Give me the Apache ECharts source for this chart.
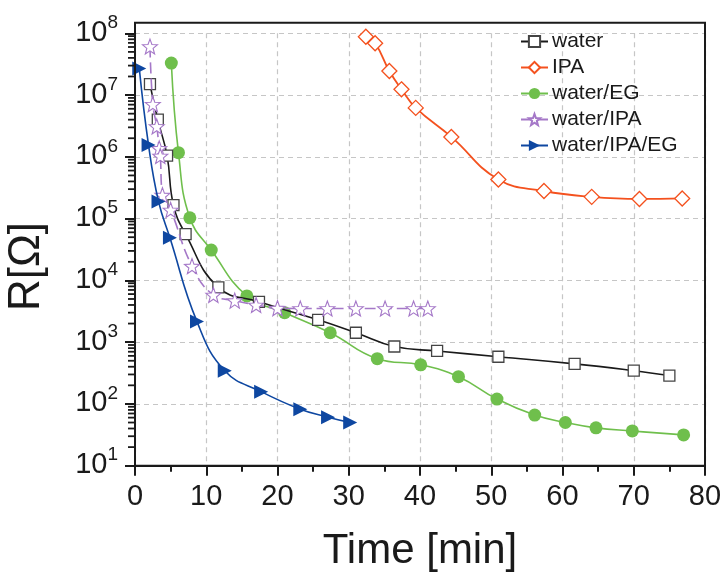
<!DOCTYPE html>
<html>
<head>
<meta charset="utf-8">
<script src="https://cdn.jsdelivr.net/npm/echarts@6/dist/echarts.min.js"></script>
<style>
  html, body { margin: 0; padding: 0; background: #fff; }
  #chart { width: 726px; height: 572px; }
</style>
</head>
<body>
<div id="chart"></div>
<script>
// Resistance R [Ω] versus drying time [min] for five solvents
const seriesNames = ['water', 'IPA', 'water/EG', 'water/IPA', 'water/IPA/EG'];

const waterTime = [2.1, 3.2, 4.5, 5.4, 7.1, 11.7, 17.4, 25.7, 31.0, 36.4, 42.4, 51.0, 61.7, 70.0, 75.0];
const waterR    = [1.5e7, 4.0e6, 1.05e6, 1.65e5, 5.6e4, 7.7e3, 4.5e3, 2.3e3, 1.42e3, 850, 720, 580, 445, 345, 288];

const ipaTime = [32.4, 33.7, 35.7, 37.4, 39.4, 44.4, 51.0, 57.4, 64.1, 70.8, 76.8];
const ipaR    = [8.8e7, 6.9e7, 2.45e7, 1.24e7, 6.2e6, 2.1e6, 4.3e5, 2.8e5, 2.25e5, 2.08e5, 2.12e5];

const waterEgTime = [5.1, 6.1, 7.7, 10.7, 15.7, 21.0, 27.4, 34.0, 40.1, 45.4, 50.8, 56.1, 60.4, 64.7, 69.8, 77.0];
const waterEgR    = [3.3e7, 1.17e6, 1.03e5, 3.1e4, 5.6e3, 3.0e3, 1.42e3, 540, 430, 276, 120, 66, 50, 41, 36.5, 31.5];

const waterIpaTime = [2.1, 2.5, 3.05, 3.4, 3.55, 3.85, 5.0, 8.0, 11.0, 14.0, 17.0, 20.0, 23.2, 27.0, 31.0, 35.1, 39.1, 41.1];
const waterIpaR    = [6.1e7, 7.1e6, 3.1e6, 1.37e6, 1.03e6, 2.4e5, 1.38e5, 1.7e4, 5.8e3, 4.7e3, 4.0e3, 3.55e3, 3.5e3, 3.5e3, 3.5e3, 3.5e3, 3.5e3, 3.5e3];

const waterIpaEgTime = [0.6, 1.9, 3.3, 4.9, 8.7, 12.6, 17.7, 23.2, 27.1, 30.2];
const waterIpaEgR    = [2.7e7, 1.55e6, 1.9e5, 4.9e4, 2.15e3, 345, 158, 82, 61, 50];

const xTicks = [0, 10, 20, 30, 40, 50, 60, 70, 80];
const yDecades = [1e1, 1e2, 1e3, 1e4, 1e5, 1e6, 1e7, 1e8];

// minor log ticks 2..9 inside every decade
const yMinorTicks = [];
for (let d = 0; d < yDecades.length - 1; d++) {
  for (let m = 2; m <= 9; m++) yMinorTicks.push(m * yDecades[d]);
}

function pairs(xs, ys) { return xs.map((x, i) => [x, ys[i]]); }

// five-pointed outline star marker
function starPath() {
  const pts = [];
  for (let i = 0; i < 10; i++) {
    const r = i % 2 ? 0.42 : 1;
    const a = Math.PI / 2 + i * Math.PI / 5;
    pts.push((r * Math.cos(a)).toFixed(4) + ' ' + (-r * Math.sin(a)).toFixed(4));
  }
  return 'path://M' + pts.join(' L') + ' Z';
}

const FONT = '"Liberation Sans", Arial, Helvetica, sans-serif';
const INK = '#1a1a1a';

const colors = {
  water: '#1a1a1a',
  ipa: '#F4511E',
  eg: '#6FBF4C',
  waterIpa: '#A578C8',
  triple: '#0E47A1'
};

const commonLine = {
  type: 'line',
  smooth: 0.45,
  clip: false,
  xAxisIndex: 0,
  yAxisIndex: 0
};

const chart = echarts.init(document.getElementById('chart'), null, { renderer: 'canvas' });

chart.setOption({
  animation: false,
  backgroundColor: '#ffffff',
  textStyle: { fontFamily: FONT, color: INK },
  grid: { left: 135, right: 21, top: 33.3, bottom: 106.3, containLabel: false, outerBoundsMode: 'none' },
  legend: {
    data: seriesNames,
    orient: 'vertical',
    left: 520,
    top: 31,
    itemWidth: 27,
    itemHeight: 14,
    itemGap: 5,
    padding: 0,
    textStyle: { fontFamily: FONT, fontSize: 21, color: INK, padding: [0, 0, 0, -1] }
  },
  xAxis: {
    type: 'value',
    min: 0,
    max: 80,
    interval: 10,
    name: 'Time [min]',
    nameLocation: 'middle',
    nameGap: 65,
    nameTextStyle: { fontFamily: FONT, fontSize: 42, color: INK },
    axisLine: { show: true, lineStyle: { color: INK, width: 2 } },
    axisTick: { show: true, length: 10, lineStyle: { color: INK, width: 2 } },
    minorTick: { show: true, splitNumber: 2, length: 6, lineStyle: { color: INK, width: 2 } },
    axisLabel: {
      fontFamily: FONT, fontSize: 29, color: INK, margin: 17,
      formatter: v => (xTicks.indexOf(v) >= 0 ? String(v) : '')
    },
    splitLine: { show: true, lineStyle: { color: '#c6c6c6', width: 1.2, type: [5, 4] } }
  },
  yAxis: {
    type: 'log',
    logBase: 10,
    min: 10,
    max: 1e8,
    splitNumber: 7,
    position: 'left',
    name: 'R[Ω]',
    nameLocation: 'middle',
    nameGap: 86,
    nameTextStyle: { fontFamily: FONT, fontSize: 44, color: INK, padding: [0, 34, 0, 0] },
    axisLine: { show: true, lineStyle: { color: INK, width: 2 } },
    axisTick: { show: true, length: 10, lineStyle: { color: INK, width: 2 } },
    axisLabel: {
      margin: 17,
      padding: [0, 0, 6, 0],
      formatter: v => {
        const e = Math.round(Math.log10(v));
        return '{b|10}{sup|' + e + '}';
      },
      rich: {
        b: { fontFamily: FONT, fontSize: 29, color: INK, lineHeight: 34, verticalAlign: 'bottom' },
        sup: { fontFamily: FONT, fontSize: 19, color: INK, lineHeight: 19, verticalAlign: 'top' }
      }
    },
    splitLine: { show: true, lineStyle: { color: '#c6c6c6', width: 1.2, type: [5, 4] } }
  },
  series: [
    Object.assign({}, commonLine, {
      name: 'water',
      data: pairs(waterTime, waterR),
      symbol: 'rect',
      symbolSize: 11,
      lineStyle: { color: colors.water, width: 1.6 },
      itemStyle: { color: '#ffffff', borderColor: '#444444', borderWidth: 1.3 },
      z: 3
    }),
    Object.assign({}, commonLine, {
      name: 'IPA',
      data: pairs(ipaTime, ipaR),
      symbol: 'diamond',
      symbolSize: 15,
      lineStyle: { color: colors.ipa, width: 1.8 },
      itemStyle: { color: '#ffffff', borderColor: colors.ipa, borderWidth: 1.3 },
      z: 3
    }),
    Object.assign({}, commonLine, {
      name: 'water/EG',
      data: pairs(waterEgTime, waterEgR),
      symbol: 'circle',
      symbolSize: 13,
      lineStyle: { color: colors.eg, width: 1.6 },
      itemStyle: { color: colors.eg, borderColor: colors.eg, borderWidth: 0 },
      z: 2
    }),
    Object.assign({}, commonLine, {
      name: 'water/IPA',
      data: pairs(waterIpaTime, waterIpaR),
      symbol: starPath(),
      symbolSize: 15,
      lineStyle: { color: colors.waterIpa, width: 1.6, type: [11, 5] },
      itemStyle: { color: '#ffffff', borderColor: colors.waterIpa, borderWidth: 1.1 },
      z: 4
    }),
    Object.assign({}, commonLine, {
      name: 'water/IPA/EG',
      data: pairs(waterIpaEgTime, waterIpaEgR),
      symbol: 'triangle',
      symbolRotate: -90,
      symbolSize: 14,
      lineStyle: { color: colors.triple, width: 1.6 },
      itemStyle: { color: colors.triple, borderColor: colors.triple, borderWidth: 0 },
      z: 5
    })
  ]
});

// Frame and minor log ticks, positioned through the chart's own axis scales
function drawDecorations() {
  const toPx = (x, y) => chart.convertToPixel({ gridIndex: 0 }, [x, y]);
  const topLeft = toPx(0, 1e8);
  const bottomRight = toPx(80, 10);
  const frameTop = topLeft[1] - 10.6;
  const elements = [];
  yMinorTicks.forEach(v => {
    const p = toPx(0, v);
    elements.push({
      type: 'line',
      z: 100,
      silent: true,
      shape: { x1: p[0] - 7, y1: p[1], x2: p[0], y2: p[1] },
      style: { stroke: INK, lineWidth: 1.8 }
    });
  });
  elements.push({
    type: 'rect',
    z: 100,
    silent: true,
    shape: {
      x: topLeft[0], y: frameTop,
      width: bottomRight[0] - topLeft[0], height: bottomRight[1] - frameTop
    },
    style: { fill: 'none', stroke: INK, lineWidth: 2 }
  });
  chart.setOption({ graphic: elements });
}
drawDecorations();
</script>
</body>
</html>
